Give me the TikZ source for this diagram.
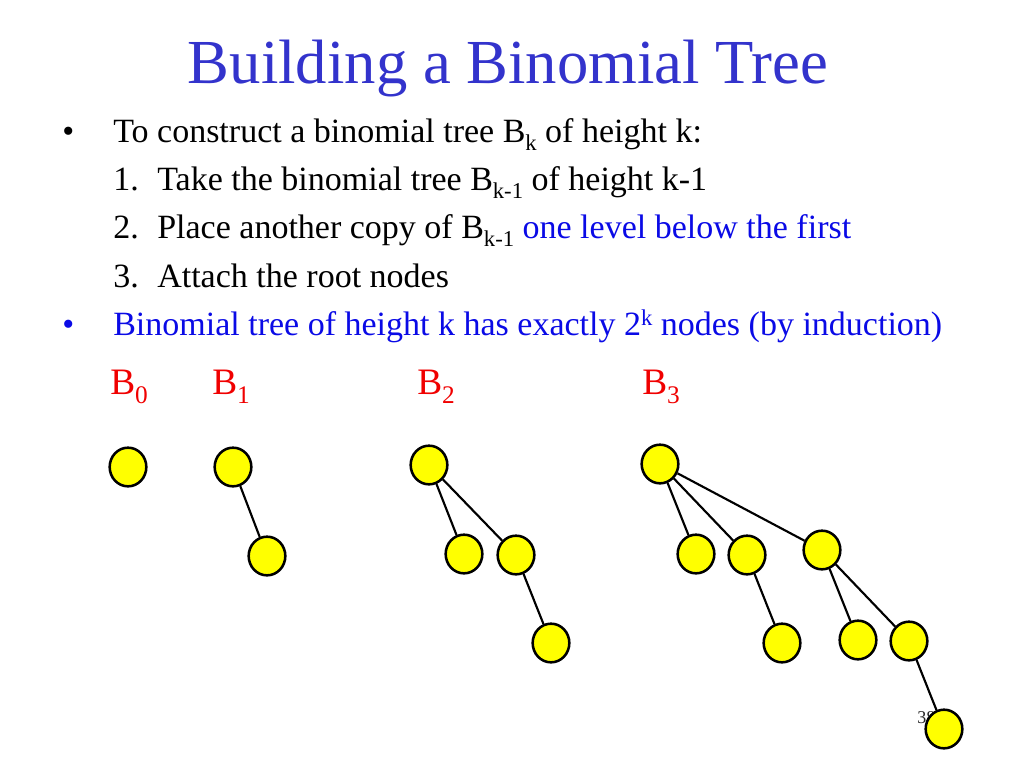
\documentclass[tikz,border=0pt]{standalone}
\usepackage{fontspec}
\setmainfont{Liberation Serif}
\usetikzlibrary{shapes.geometric}
\definecolor{titleblue}{RGB}{51,51,204}
\definecolor{txtblue}{RGB}{10,10,230}
\definecolor{lblred}{RGB}{240,0,0}
\definecolor{nodeyellow}{RGB}{255,255,0}
\newcommand\lowsub[1]{\raisebox{-6.6pt}{\fontsize{17}{17}\selectfont #1}}
\newcommand\lblsub[1]{\raisebox{-7pt}{\fontsize{19}{19}\selectfont #1}}
\newcommand\highsup[1]{\raisebox{7.5pt}{\fontsize{17}{17}\selectfont #1}}
\tikzset{
  body/.style={anchor=base west, inner sep=0pt, font=\fontsize{25.5}{30}\selectfont},
  lbl/.style={anchor=base west, inner sep=0pt, text=lblred, font=\fontsize{28}{32}\selectfont},
  tn/.style={ellipse, draw=black, line width=1.9pt, fill=nodeyellow, minimum width=27.5pt, minimum height=29pt, inner sep=0pt},
  tedge/.style={line width=1.6pt, draw=black}
}
\begin{document}
\begin{tikzpicture}[x=0.75pt,y=-0.75pt]
\useasboundingbox (0,0) rectangle (1024,768);
% page number (hidden behind last node)
\node[anchor=base west, inner sep=0pt, text=black!85, font=\fontsize{13.5}{15}\selectfont] (pg) at (917,723) {38};
% title
\node[anchor=base, inner sep=0pt, text=titleblue, font=\fontsize{47}{52}\selectfont] (title) at (508,83) {Building a Binomial Tree};
% bullets and text
\node[body] (b1) at (62,142) {•};
\node[body] (l1) at (113,142) {To construct a binomial tree B\lowsub{k} of height k:};
\node[body] (n1) at (113,190) {1.};
\node[body] (l2) at (157,190) {Take the binomial tree B\lowsub{k-1} of height k-1};
\node[body] (n2) at (113,238) {2.};
\node[body] (l3) at (157,238) {Place another copy of B\lowsub{k-1} \textcolor{txtblue}{one level below the first}};
\node[body] (n3) at (113,287) {3.};
\node[body] (l4) at (157,287) {Attach the root nodes};
\node[body, text=txtblue] (b2) at (62,335) {•};
\node[body, text=txtblue] (l5) at (113,335) {Binomial tree of height k has exactly 2\highsup{k} nodes (by induction)};
% labels
\node[lbl] (lb0) at (110,394) {B\lblsub{0}};
\node[lbl] (lb1) at (212,394) {B\lblsub{1}};
\node[lbl] (lb2) at (417,394) {B\lblsub{2}};
\node[lbl] (lb3) at (642,394) {B\lblsub{3}};
% B0
\node[tn] (a0) at (128,467) {};
% B1
\node[tn] (c0) at (233,467) {};
\node[tn] (c1) at (267,556) {};
% B2
\node[tn] (d0) at (429,465) {};
\node[tn] (d1) at (464,554) {};
\node[tn] (d2) at (516,555) {};
\node[tn] (d3) at (551,643) {};
% B3
\node[tn] (e0) at (660,464) {};
\node[tn] (e1) at (696,554) {};
\node[tn] (e2) at (747,555) {};
\node[tn] (e3) at (822,550) {};
\node[tn] (e4) at (782,643) {};
\node[tn] (e5) at (858,640) {};
\node[tn] (e6) at (909,641) {};
\node[tn] (e7) at (944,729) {};
% edges
\draw[tedge] (c0) -- (c1);
\draw[tedge] (d0) -- (d1);
\draw[tedge] (d0) -- (d2);
\draw[tedge] (d2) -- (d3);
\draw[tedge] (e0) -- (e1);
\draw[tedge] (e0) -- (e2);
\draw[tedge] (e0) -- (e3);
\draw[tedge] (e2) -- (e4);
\draw[tedge] (e3) -- (e5);
\draw[tedge] (e3) -- (e6);
\draw[tedge] (e6) -- (e7);
\end{tikzpicture}
\end{document}
